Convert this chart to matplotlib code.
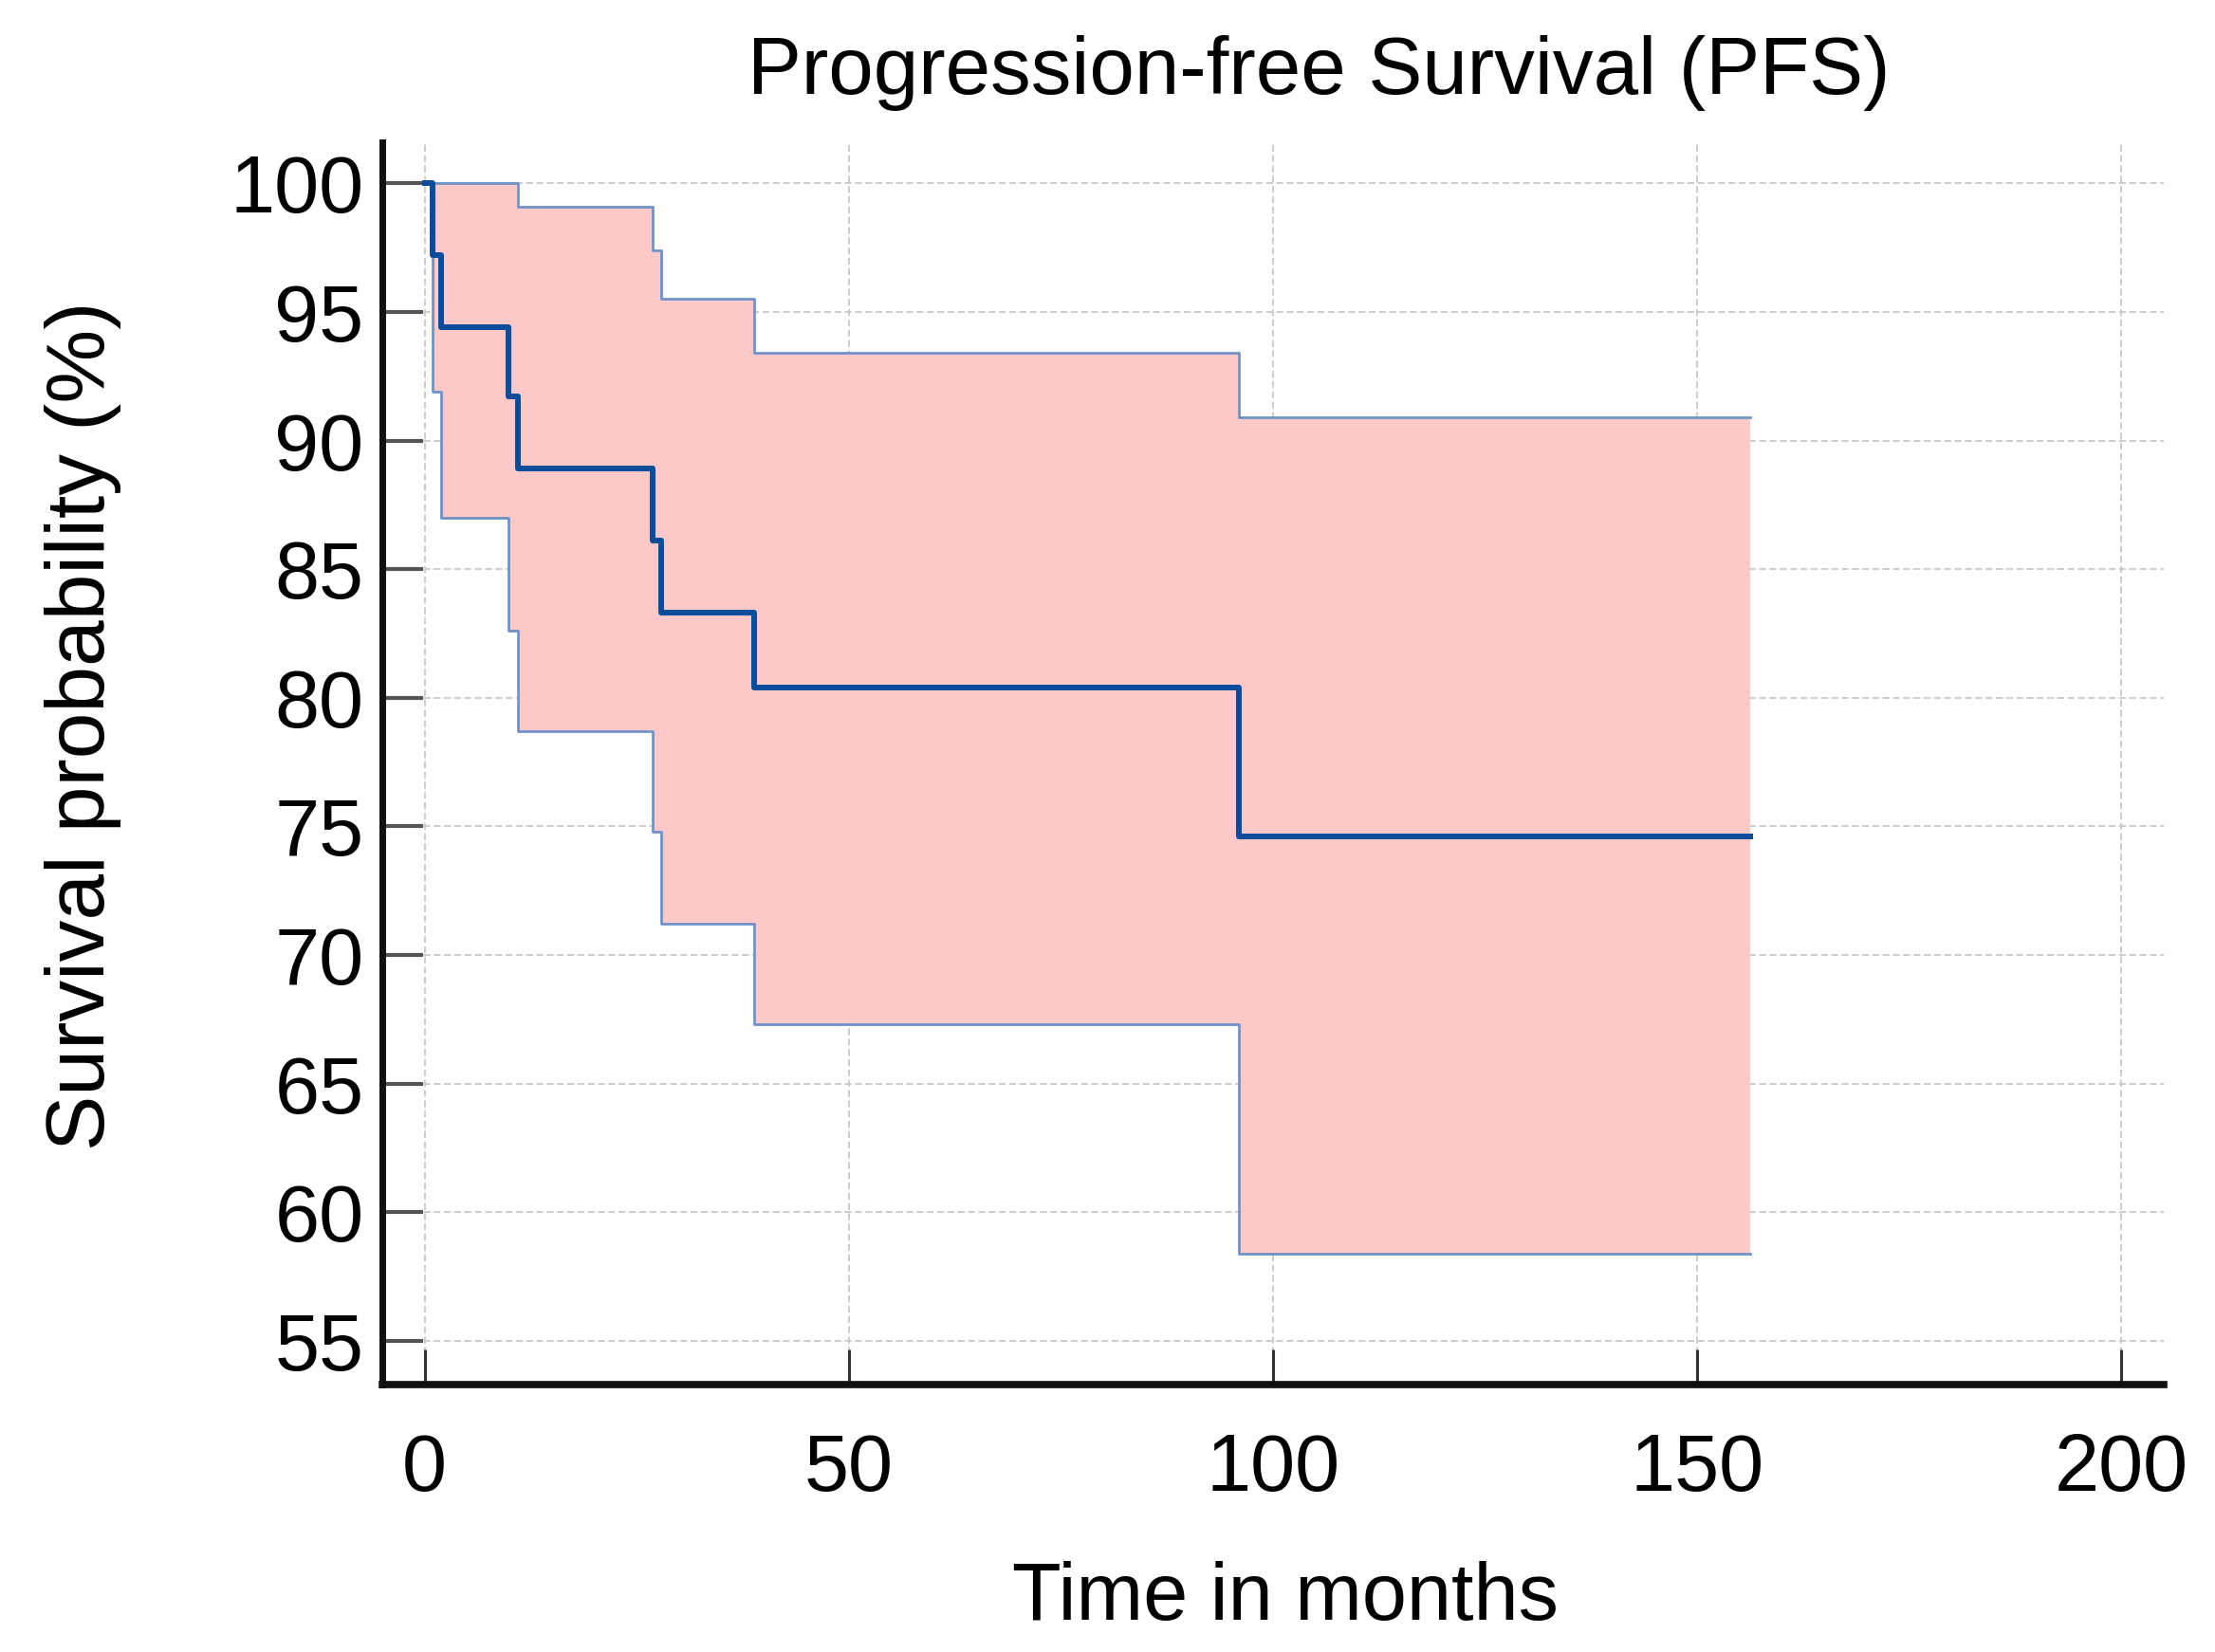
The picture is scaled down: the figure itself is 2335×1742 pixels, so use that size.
import matplotlib
matplotlib.use("Agg")
import matplotlib.pyplot as plt

# Kaplan-Meier PFS estimate with 95% CI
months = [0, 0.9, 1.9, 9.9, 11.0, 26.9, 27.9, 38.8, 96.0, 156.2]
survival = [100, 97.2, 94.4, 91.7, 88.9, 86.1, 83.3, 80.4, 74.6, 74.6]
ci_upper = [100, 100, 100, 100, 99.1, 97.4, 95.5, 93.4, 90.9, 90.9]
ci_lower = [100, 91.9, 87.0, 82.6, 78.7, 74.8, 71.2, 67.3, 58.4, 58.4]

x_ticks = [0, 50, 100, 150, 200]
y_ticks = [55, 60, 65, 70, 75, 80, 85, 90, 95, 100]

plt.rcParams['font.family'] = ['Liberation Sans', 'DejaVu Sans']

fig = plt.figure(figsize=(23.35, 17.42), dpi=100)
ax = fig.add_axes([0.1726, 0.1619, 0.8043, 0.7520])

ax.fill_between(months, ci_lower, ci_upper, step='post', facecolor='#fcc8c8', edgecolor='none', zorder=2)
ax.step(months, ci_upper, where='post', color='#6f93c8', lw=2.0, zorder=3)
ax.step(months, ci_lower, where='post', color='#6f93c8', lw=2.0, zorder=3)
ax.step(months, survival, where='post', color='#0a4c9c', lw=4.3, zorder=4)

ax.set_xlim(-5, 205)
ax.set_ylim(53.3, 101.6)
ax.set_xticks(x_ticks)
ax.set_yticks(y_ticks)

ax.grid(True, color='#c8c8c8', linestyle=(0, (4, 2)), lw=1.3, zorder=1)
ax.set_axisbelow(True)

for side in ['top', 'right']:
    ax.spines[side].set_visible(False)
ax.spines['left'].set_linewidth(5)
ax.spines['bottom'].set_linewidth(5.5)
ax.spines['left'].set_color('#111111')
ax.spines['bottom'].set_color('#111111')

ax.tick_params(axis='y', direction='in', length=31, width=3, color='#555555',
               labelsize=61, pad=14)
ax.tick_params(axis='x', direction='in', length=27, width=2.2, color='#333333',
               labelsize=61, pad=36)

ax.set_xlabel('Time in months', fontsize=61, labelpad=40, x=0.507)
ax.set_ylabel('Survival probability (%)', fontsize=63)
ax.yaxis.set_label_coords(-0.1464, 0.5305)
ax.set_title('Progression-free Survival (PFS)', fontsize=61.5, pad=37, x=0.5255)

fig.savefig('out.png', dpi=100)
